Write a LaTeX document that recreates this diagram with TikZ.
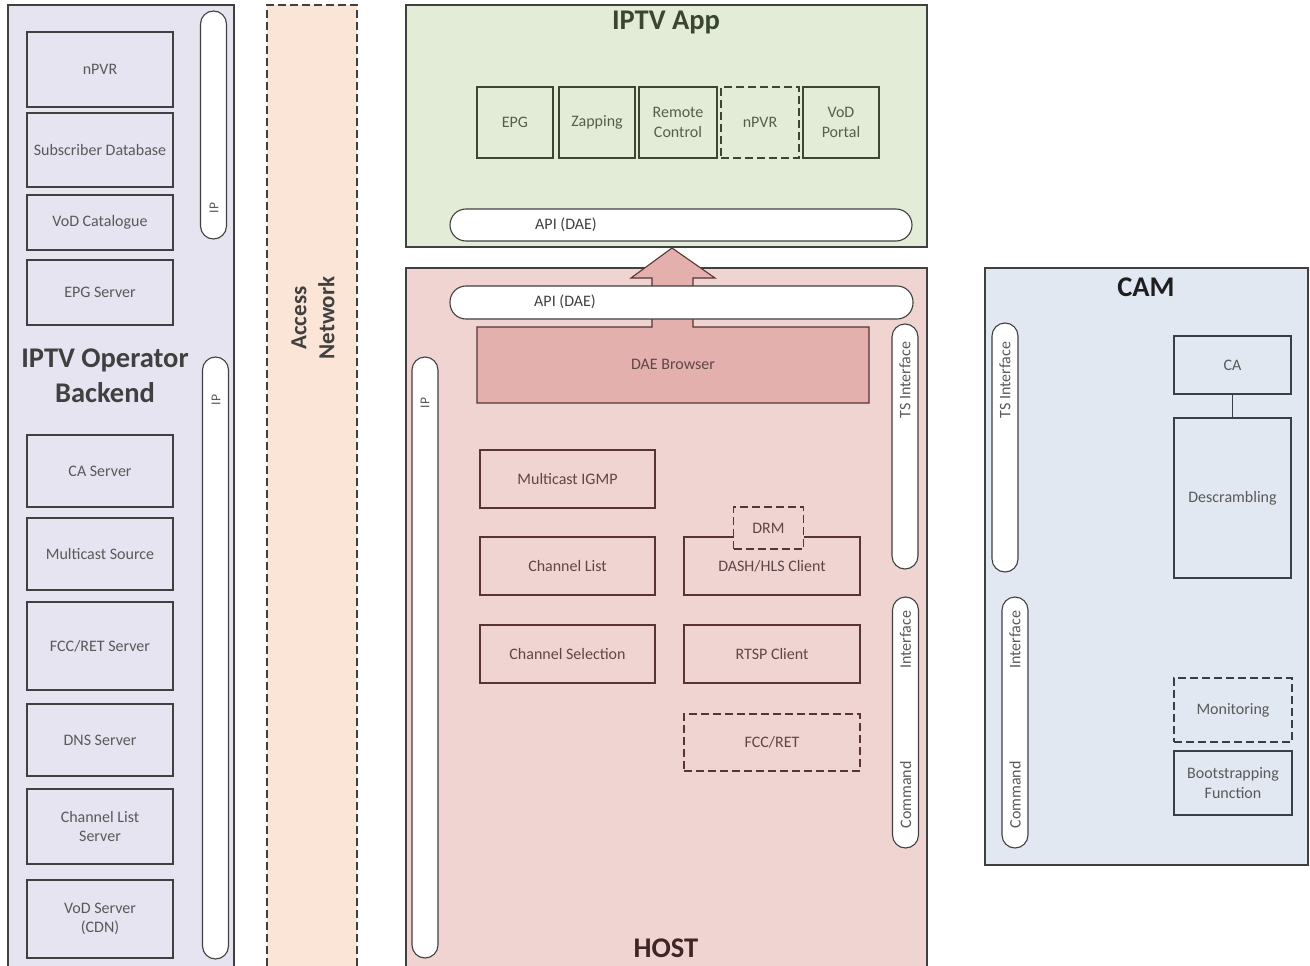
\documentclass[tikz,border=0pt]{standalone}
\usepackage{fontspec}
\setmainfont{Carlito}
\definecolor{bkfill}{RGB}{230,228,240}
\definecolor{anfill}{RGB}{251,229,214}
\definecolor{appfill}{RGB}{227,236,215}
\definecolor{hostfill}{RGB}{239,212,210}
\definecolor{daefill}{RGB}{227,176,174}
\definecolor{camfill}{RGB}{226,232,241}
\definecolor{edge}{RGB}{64,64,64}
\definecolor{hostedge}{RGB}{90,52,52}
\definecolor{appedge}{RGB}{60,70,50}
\definecolor{camedge}{RGB}{58,62,70}
\definecolor{txt}{RGB}{89,89,89}
\definecolor{hosttxt}{RGB}{95,70,70}
\definecolor{apptxt}{RGB}{85,95,75}
\definecolor{ttlgray}{RGB}{64,64,64}
\definecolor{ttlapp}{RGB}{58,70,48}
\definecolor{ttlhost}{RGB}{63,38,38}
\definecolor{ttlcam}{RGB}{30,30,30}
\begin{document}
\begin{tikzpicture}[x=1pt,y=-1pt,
  lbl/.style={font=\fontsize{16}{19.5}\selectfont, align=center, inner sep=0pt},
  smalllbl/.style={font=\fontsize{13.5}{16}\selectfont, inner sep=0pt, rotate=90, text=txt},
  title/.style={font=\fontsize{28.5}{35}\selectfont\bfseries, align=center, inner sep=0pt},
  panel/.style={draw=edge, line width=1.1pt, rectangle, inner sep=0pt},
  bbox/.style={draw=edge, line width=1.1pt, rectangle, inner sep=0pt, lbl, text=txt},
  hbox/.style={bbox, draw=hostedge, text=hosttxt},
  abox/.style={bbox, draw=appedge, text=apptxt},
  cbox/.style={bbox, draw=camedge, text=txt},
  dashbox/.style={dash pattern=on 8pt off 4pt},
  vpill/.style={draw=edge, fill=white, line width=1.1pt, rectangle, inner sep=0pt, rounded corners=13pt, minimum width=26pt},
  hpill/.style={draw=edge, fill=white, line width=1.1pt, rectangle, inner sep=0pt, rounded corners=16pt, minimum height=32pt},
  pilltxt/.style={lbl, rotate=90, text=txt},
]
\useasboundingbox (0,0) rectangle (1310,966);
\clip (0,0) rectangle (1310,966);
\fill[white] (0,0) rectangle (1310,966);

% ---------------- IPTV Operator Backend ----------------
\node[panel, fill=bkfill, minimum width=226pt, minimum height=967pt] (backend) at (121,488.5) {};
\node[vpill, minimum height=228pt] (bkip1) at (213.5,125) {};
\node[smalllbl] (bkip1t) at (214,208) {IP};
\node[vpill, minimum height=602pt] (bkip2) at (215.5,658) {};
\node[smalllbl] (bkip2t) at (216,400) {IP};
\node[title, text=ttlgray] (bktitle) at (105,376) {IPTV Operator\\Backend};

\node[bbox, minimum width=146pt, minimum height=75pt] (bnpvr) at (100,69.5) {nPVR};
\node[bbox, minimum width=146pt, minimum height=74pt] (bsub) at (100,150) {Subscriber Database};
\node[bbox, minimum width=146pt, minimum height=55pt] (bvodc) at (100,222.5) {VoD Catalogue};
\node[bbox, minimum width=146pt, minimum height=65pt] (bepg) at (100,292.5) {EPG Server};
\node[bbox, minimum width=146pt, minimum height=72pt] (bca) at (100,471) {CA Server};
\node[bbox, minimum width=146pt, minimum height=72pt] (bmc) at (100,554) {Multicast Source};
\node[bbox, minimum width=146pt, minimum height=88pt] (bfcc) at (100,646) {FCC/RET Server};
\node[bbox, minimum width=146pt, minimum height=72pt] (bdns) at (100,740) {DNS Server};
\node[bbox, minimum width=146pt, minimum height=75pt] (bcl) at (100,826.5) {Channel List\\Server};
\node[bbox, minimum width=146pt, minimum height=78pt] (bvod) at (100,919) {VoD Server\\(CDN)};

% ---------------- Access Network ----------------
\node[panel, dashbox, fill=anfill, minimum width=90pt, minimum height=967pt] (access) at (312,488.5) {};
\node[title, rotate=90, font=\fontsize{23}{28}\selectfont\bfseries, text=ttlgray] (antitle) at (313,318) {Access\\Network};

% ---------------- IPTV App ----------------
\node[panel, fill=appfill, minimum width=521pt, minimum height=242pt] (app) at (666.5,126) {};
\node[title, text=ttlapp] (apptitle) at (666,23) {IPTV App};
\node[abox, minimum width=76pt, minimum height=71pt] (aepg) at (515,122.5) {EPG};
\node[abox, minimum width=76pt, minimum height=71pt] (azap) at (597,122.5) {Zapping};
\node[abox, minimum width=78pt, minimum height=71pt] (arc) at (678,122.5) {Remote\\Control};
\node[abox, dashbox, minimum width=78pt, minimum height=71pt] (anpvr) at (760,122.5) {nPVR};
\node[abox, minimum width=76pt, minimum height=71pt] (avod) at (841,122.5) {VoD\\Portal};
\node[hpill, minimum width=462pt] (apiapp) at (681,225) {};
\node[lbl, text=edge] (apiappt) at (566,225) {API (DAE)};

% ---------------- HOST ----------------
\node[panel, fill=hostfill, minimum width=521pt, minimum height=704pt] (host) at (666.5,620) {};
\filldraw[fill=daefill, draw=hostedge, line width=1.1pt]
  (477,327) -- (652,327) -- (652,278) -- (631,278) -- (672,248) -- (715,278)
  -- (693,278) -- (693,327) -- (869,327) -- (869,403) -- (477,403) -- cycle;
\node[lbl, text=hosttxt] (dae) at (673,364) {DAE Browser};
\node[hpill, minimum width=463pt, minimum height=33pt] (apihost) at (681.5,302.5) {};
\node[lbl, text=edge] (apihostt) at (565,302) {API (DAE)};

\node[vpill, minimum height=601pt] (hip) at (425,657.5) {};
\node[smalllbl] (hipt) at (425,403) {IP};
\node[vpill, minimum height=245pt] (hts) at (905,446.5) {};
\node[pilltxt] (htst) at (905,380) {TS Interface};
\node[vpill, minimum height=251pt] (hcmd) at (905.5,722.5) {};
\node[pilltxt] (hcmdt1) at (905.5,640) {Interface};
\node[pilltxt] (hcmdt2) at (905.5,795) {Command};

\node[hbox, minimum width=175pt, minimum height=58pt] (higmp) at (567.5,479) {Multicast IGMP};
\node[hbox, minimum width=175pt, minimum height=58pt] (hcl) at (567.5,566) {Channel List};
\node[hbox, minimum width=176pt, minimum height=58pt] (hdash) at (772,566) {DASH/HLS Client};
\node[hbox, dashbox, fill=hostfill, minimum width=70pt, minimum height=42pt] (hdrm) at (768.5,528) {DRM};
\node[hbox, minimum width=175pt, minimum height=58pt] (hcs) at (567.5,654) {Channel Selection};
\node[hbox, minimum width=176pt, minimum height=58pt] (hrtsp) at (772,654) {RTSP Client};
\node[hbox, dashbox, minimum width=176pt, minimum height=57pt] (hfcc) at (772,742.5) {FCC/RET};
\node[title, text=ttlhost] (hosttitle) at (666,948) {HOST};

% ---------------- CAM ----------------
\node[panel, fill=camfill, minimum width=323pt, minimum height=597pt] (cam) at (1146.5,566.5) {};
\node[title, text=ttlcam] (camtitle) at (1146,287) {CAM};
\node[vpill, minimum height=249pt] (cts) at (1005,447.5) {};
\node[pilltxt] (ctst) at (1005,380) {TS Interface};
\node[vpill, minimum height=251pt] (ccmd) at (1015,722.5) {};
\node[pilltxt] (ccmdt1) at (1015,640) {Interface};
\node[pilltxt] (ccmdt2) at (1015,795) {Command};
\node[cbox, minimum width=117pt, minimum height=58pt] (cca) at (1232.5,365) {CA};
\node[cbox, minimum width=117pt, minimum height=160pt] (cdesc) at (1232.5,498) {Descrambling};
\draw[draw=camedge, line width=1.1pt] (cca) -- (cdesc);
\node[cbox, dashbox, minimum width=118pt, minimum height=64pt] (cmon) at (1233,710) {Monitoring};
\node[cbox, minimum width=118pt, minimum height=64pt] (cboot) at (1233,783) {Bootstrapping\\Function};
\end{tikzpicture}
\end{document}
